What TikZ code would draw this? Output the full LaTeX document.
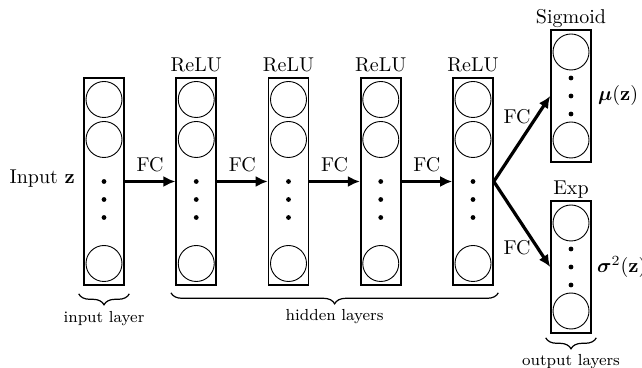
\documentclass[tikz,border=0pt]{standalone}
\usepackage{amsmath,bm}
\usetikzlibrary{arrows.meta,decorations.pathreplacing}

\begin{document}
\begin{tikzpicture}[x=0.5pt,y=-0.5pt,
  layerbox/.style={draw, line width=0.8pt, minimum width=20pt, inner sep=0pt},
  neuron/.style={circle, draw, line width=0.45pt, minimum size=18pt, inner sep=0pt},
  dotn/.style={circle, fill, minimum size=2.4pt, inner sep=0pt},
  fcarrow/.style={line width=1.6pt, -{Latex[length=6pt,width=5.5pt]}},
  fclabel/.style={anchor=base, inner sep=0pt},
  layername/.style={anchor=base, inner sep=0pt},
  bracedeco/.style={decorate, decoration={brace, mirror, amplitude=5.5pt}, line width=0.6pt},
  bracetext/.style={anchor=north, inner sep=0pt, font=\footnotesize}
]
\useasboundingbox (0,0) rectangle (642,368);

% input and hidden layers
\foreach \name/\x in {in/104, h1/196.25, h2/288.5, h3/380.75, h4/473} {
  \node[layerbox, minimum height=103.5pt] (\name) at (\x,181.5) {};
  \node[neuron] (\name-n1) at (\x,99.5) {};
  \node[neuron] (\name-n2) at (\x,139.5) {};
  \node[neuron] (\name-n3) at (\x,263.5) {};
  \node[dotn] (\name-d1) at (\x,181.5) {};
  \node[dotn] (\name-d2) at (\x,199.5) {};
  \node[dotn] (\name-d3) at (\x,217.5) {};
}

% output layers
\foreach \name/\y in {sig/96, expo/267} {
  \node[layerbox, minimum height=66pt] (\name) at (571,\y) {};
  \node[neuron] (\name-n1) at (571,\y-44) {};
  \node[neuron] (\name-n2) at (571,\y+44) {};
  \node[dotn] (\name-d1) at (571,\y-18) {};
  \node[dotn] (\name-d2) at (571,\y) {};
  \node[dotn] (\name-d3) at (571,\y+18) {};
}

% layer titles
\node[anchor=base east, inner sep=0pt] (inlabel) at ([xshift=-4pt,yshift=-1.2pt]in.west) {Input $\mathbf{z}$};
\foreach \name in {h1,h2,h3,h4} {
  \node[layername] (\name-act) at ([yshift=3pt]\name.north) {ReLU};
}
\node[layername] (sig-act) at ([yshift=3pt]sig.north) {Sigmoid};
\node[layername] (expo-act) at ([yshift=3pt]expo.north) {Exp};
\node[anchor=west, inner sep=0pt] (mu) at ([xshift=3pt]sig.east) {$\bm{\mu}(\mathbf{z})$};
\node[anchor=west, inner sep=0pt] (sigma) at ([xshift=2.5pt]expo.east) {$\bm{\sigma}^2(\mathbf{z})$};

% fully connected links
\draw[fcarrow] (in.east) -- node[fclabel, yshift=5pt] (fc1) {FC} (h1.west);
\draw[fcarrow] (h1.east) -- node[fclabel, yshift=5pt] (fc2) {FC} (h2.west);
\draw[fcarrow] (h2.east) -- node[fclabel, yshift=5pt] (fc3) {FC} (h3.west);
\draw[fcarrow] (h3.east) -- node[fclabel, yshift=5pt] (fc4) {FC} (h4.west);
\draw[fcarrow] (h4.east) -- (sig.west);
\draw[fcarrow] (h4.east) -- (expo.west);
\node[fclabel] (fc5) at (517,124) {FC};
\node[fclabel] (fc6) at (517,255) {FC};

% group braces
\draw[bracedeco] ([shift={(-4.5,8)}]in.south west) -- ([shift={(4.5,8)}]in.south east)
  node[bracetext, midway, yshift=-8.5pt] (inbrace) {input layer};
\draw[bracedeco] ([shift={(-4.5,7)}]h1.south west) -- ([shift={(4.5,7)}]h4.south east)
  node[bracetext, midway, yshift=-8pt] (hidbrace) {hidden layers};
\draw[bracedeco] ([shift={(-4.5,4)}]expo.south west) -- ([shift={(4.5,4)}]expo.south east)
  node[bracetext, midway, yshift=-8pt] (outbrace) {output layers};
\end{tikzpicture}
\end{document}
